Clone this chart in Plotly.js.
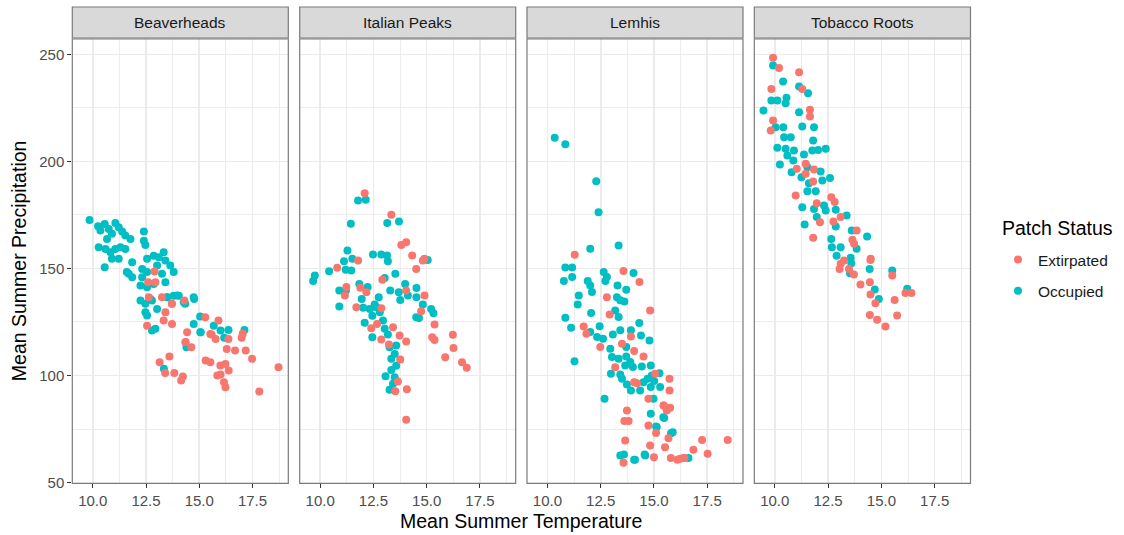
<!DOCTYPE html>
<html>
<head>
<meta charset="utf-8">
<script src="https://cdn.plot.ly/plotly-3.0.1.min.js"></script>
<style>html,body{margin:0;padding:0;background:#fff;}#chart{width:1124px;height:535px;}</style>
</head>
<body>
<div id="chart"></div>
<script>
// ---------- data ----------
const panels = ['Beaverheads', 'Italian Peaks', 'Lemhis', 'Tobacco Roots'];
const statuses = ['Extirpated', 'Occupied'];

// Beaverheads
const beaverOccX = [9.85,10.25,10.56,10.75,11.06,11.22,11.38,10.9,10.67,11.53,11.77,10.36,10.28,10.6,10.83,11.06,11.3,11.53,11.22,10.9,10.56,11.85,12.4,12.4,12.47,12.55,12.86,13.1,13.33,13.41,13.64,13.8,13.02,12.32,12.55,11.69,11.6,11.85,12.32,12.24,12.55,12.86,13.25,13.41,13.5,13.8,14.04,14.27,14.74,12.24,12.47,12.78,13.02,12.47,12.55,12.94,12.78,14.74,15.05,15.68,16.0,13.34,14.4,16.17,17.12,16.37,15.07,14.76,15.04,14.34,12.7,13.48,13.95];
const beaverOccY = [172.6,169.7,170.8,168.5,171.3,169.3,167.3,166.2,163.8,165.4,163.8,167.7,159.9,159.1,157.6,159.1,159.9,159.1,154.5,154.5,150.6,152.9,167.3,163.0,161,154.5,156,155.3,157.6,153.7,151.4,148.3,151.4,149.8,148.3,147.5,148.3,145.9,145.9,142,141.2,142.8,147.5,143.6,136.6,137.3,137.3,134.2,136.6,135,133.5,135,131.1,129.6,128,121.8,121,124.1,120.2,123.3,121,103.1,113.2,117.6,121.3,121.3,120.2,135.8,127.6,133.5,135.8,136.6,137.4];
const beaverExtX = [12.9,12.94,12.63,13.25,13.72,13.41,12.55,13.33,13.72,15.28,15.9,14.43,15.52,14.35,15.58,15.77,16.37,16.99,17.04,14.36,14.63,16.29,16.68,17.18,17.48,13.6,13.14,15.3,15.52,15.99,16.23,16.38,15.85,16.16,16.23,16.0,13.4,13.83,14.23,14.15,17.82,18.72,13.71,14.3,12.6];
const beaverExtY = [148.6,143.6,136.6,136.6,133.5,129.6,123.3,125.7,124.1,127.2,125.7,120.2,119.4,115.5,119.1,117.1,117.1,117.6,119.5,115.6,113.2,112.4,111.7,111.7,107.8,108.9,106.2,107.0,106.2,104.7,105.4,102.3,100,96.9,94.5,100.5,101.2,101.2,99.5,97.7,92.5,103.9,133.5,135.0,143.6];

// Italian Peaks
const italianOccX = [11.78,12.14,11.44,13.15,13.7,11.28,11.12,11.51,12.48,12.87,13.14,13.18,11.2,11.46,10.42,9.75,9.67,13.53,13.03,13.99,14.52,10.9,11.21,11.84,12.23,11.95,10.9,13.29,13.69,13.76,14.12,14.52,14.82,15.21,15.32,14.51,14.64,12.75,12.56,12.33,12.02,12.45,12.8,12.09,12.95,13.03,12.45,13.18,13.26,13.57,13.5,13.34,13.57,13.34,13.07,13.5,13.42,13.26,12.64,15.05];
const italianOccY = [181.8,182.1,170.9,171.3,171.9,158.4,153.4,154.5,156.5,156.5,156.1,153.4,149.4,149.0,148.7,146.7,144.1,147.5,145.6,142.8,140.9,139.7,139.7,142.8,141.3,135.8,132.2,139.7,138.9,135.3,137.4,136.6,133.2,131.1,129.1,127.2,126.9,136.6,133.2,131.1,131.6,127.9,129.6,124.6,125.7,121.8,117.9,119.1,113.2,114.0,110.1,107.8,104.6,102.6,99.7,99.2,96.1,93.3,131.9,154.0];
const italianExtX = [12.09,13.34,13.81,14.04,14.32,14.82,14.51,11.78,10.8,11.23,11.16,11.89,12.17,11.7,12.92,12.87,14.04,14.9,14.74,15.37,15.26,15.37,16.23,16.26,15.87,16.66,16.88,12.4,12.67,12.87,13.42,13.73,14.04,13.23,13.76,13.65,13.53,14.07,14.04,14.9];
const italianExtY = [185.2,175.1,161.0,162.3,156.1,153.7,149.8,153.7,150.3,141.3,137.4,141,138.9,131.9,144.7,131.4,139.7,137.4,130.0,123.8,117.9,116.6,119.0,112.9,108.5,106.2,103.6,122.1,124.1,116.8,122.6,118.7,115.9,114.5,107.5,97.2,92.7,93.6,79.3,154.5];

// Lemhis
const lemhisOccX = [10.34,10.84,12.29,12.4,12.01,13.34,10.84,11.16,10.77,11.16,12.64,12.79,12.72,14.04,11.89,12.01,12.09,13.29,13.7,13.26,13.42,13.61,11.47,11.42,13.18,13.34,12.05,10.84,11.11,12.45,12.01,12.33,12.61,13.07,13.42,13.92,14.31,14.39,14.79,12.95,13.7,13.03,13.34,13.7,13.89,13.65,14.01,14.43,14.85,12.98,13.42,13.5,13.73,13.92,14.35,14.51,14.7,14.9,15.01,15.26,14.85,15.29,12.68,14.98,14.85,15.48,15.13,15.88,13.42,14.07,14.59,16.62,11.27,15.8,15.44,14.11,13.59,14.56,15.1];
const lemhisOccY = [211.1,208.0,190.7,176.3,159.2,160.7,150.4,150.4,144.1,146.0,148.3,146.0,144.1,147.9,144.1,142.1,139.0,142.1,140.1,136.6,135.1,134.6,137.4,133.2,130.4,127.3,129.2,127.0,122.3,123.0,120.3,118.0,117.2,119.2,121.1,121.1,124.5,118.7,116.4,112.5,113.3,108.6,107.8,108.9,106.3,104.7,104.0,104.2,104.7,100.8,100.5,98.5,95.8,93.0,93.0,96.9,98.5,100.0,97.4,101.1,94.6,94.6,89.1,89.1,82.1,80.1,75.9,73.5,62.6,60.6,62.6,61.5,106.7,73.0,80.5,60.6,63.1,63.1,76.2];
const lemhisExtX = [11.28,13.57,14.32,12.79,14.82,12.92,11.7,11.83,12.48,13.92,13.5,14.07,14.51,13.18,14.2,14.07,15.06,15.73,15.73,14.74,15.45,15.6,13.73,13.61,13.81,14.74,15.1,15.68,13.65,14.82,15.52,15.79,16.1,16.38,16.85,17.26,18.46,17.52,15.46,15.76,15.0,16.23,16.43,13.57];
const lemhisExtY = [156.4,148.8,143.7,136.6,130.4,128.5,122.9,119.5,113.3,118.2,114.8,111.4,108.9,103.9,96.4,96.9,100.8,98.5,93.0,89.1,86.0,83.7,83.7,78.7,78.7,76.7,73.1,70.7,69.6,67.3,66.5,61.5,60.6,61.5,65.3,69.9,69.9,63.4,86.0,84.9,61.8,61.1,61.5,59.3];

// Tobacco Roots
const tobaccoOccX = [9.92,10.39,11.14,11.56,10.55,9.84,10.12,10.51,9.47,11.14,10.04,10.4,11.29,11.84,10.44,10.75,11.8,10.12,10.51,10.9,11.37,11.76,12.03,12.39,10.59,10.87,10.24,11.53,10.79,12.15,12.59,11.25,12.23,11.6,11.53,11.92,11.29,11.84,12.31,12.39,12.86,13.37,11.97,11.4,12.86,13.61,14.33,12.65,13.09,12.68,13.84,12.9,13.56,13.59,13.53,14.45,15.51,14.69,14.88,16.21];
const tobaccoOccY = [244.8,237.4,235.0,231.9,229.7,228.5,228.5,227.2,223.8,223.0,216.0,216.0,216.3,216.0,211.3,211.3,209.8,206.4,205.9,205.1,203.2,205.1,205.4,205.9,202.8,200.4,198.6,197.3,195.0,195.3,192.3,192.6,191.1,189.8,186.1,186.1,178.6,177.8,179.4,177.1,177.4,174.7,174.0,170.5,169.6,167.7,164.9,163.8,159.9,159.9,159.2,156.0,155.0,152.5,147.8,149.8,149.1,140.2,135.8,140.5];
const tobaccoExtX = [9.92,10.2,11.14,11.29,9.84,11.65,11.65,9.92,9.81,11.45,11.84,11.03,11.45,11.8,10.98,11.97,12.65,12.81,12.12,12.75,13.09,11.8,13.84,13.64,13.72,14.5,13.25,14.49,13.09,13.04,13.48,13.71,14.02,14.46,14.49,14.72,15.51,15.62,16.13,16.41,14.46,14.8,15.19,15.74];
const tobaccoExtY = [248.4,243.7,241.7,233.9,233.9,224.1,221.0,219.1,214.5,198.9,196.2,196.6,194.2,190.6,184.1,180.5,183.3,181.0,171.6,171.9,174.0,164.3,167.7,163.4,161.5,154.5,153.7,154.0,152.2,149.8,149.8,147.2,142.5,143.6,137.8,133.8,146.7,135.3,138.5,138.5,128.3,126.0,122.9,128.0];

const xTickVals = [10, 12.5, 15, 17.5];
const xTickText = ['10.0', '12.5', '15.0', '17.5'];
const yTickVals = [50, 100, 150, 200, 250];
const yTickText = ['50', '100', '150', '200', '250'];

// ---------- build ----------
const occX = [beaverOccX, italianOccX, lemhisOccX, tobaccoOccX];
const occY = [beaverOccY, italianOccY, lemhisOccY, tobaccoOccY];
const extX = [beaverExtX, italianExtX, lemhisExtX, tobaccoExtX];
const extY = [beaverExtY, italianExtY, lemhisExtY, tobaccoExtY];
const colors = {Extirpated: '#F8766D', Occupied: '#00BFC4'};

const W = 1124, H = 535;
const panelPx = [[72.3, 288.3], [299.7, 515.7], [527.0, 743.0], [754.3, 970.5]];
const topPx = 39, botPx = 483.4, stripTop = 7;
const FONT = 'Liberation Sans, Arial, sans-serif';

const traces = [];
panels.forEach((p, i) => {
  const xa = i === 0 ? 'x' : 'x' + (i + 1);
  const ya = i === 0 ? 'y' : 'y' + (i + 1);
  traces.push({
    type: 'scatter', mode: 'markers', x: occX[i], y: occY[i], xaxis: xa, yaxis: ya,
    name: 'Occupied', legendgroup: 'Occupied', legendrank: 2, showlegend: i === 0,
    marker: {color: colors.Occupied, size: 8, line: {width: 0}}, hoverinfo: 'x+y'
  });
  traces.push({
    type: 'scatter', mode: 'markers', x: extX[i], y: extY[i], xaxis: xa, yaxis: ya,
    name: 'Extirpated', legendgroup: 'Extirpated', legendrank: 1, showlegend: i === 0,
    marker: {color: colors.Extirpated, size: 8, line: {width: 0}}, hoverinfo: 'x+y'
  });
});

const layout = {
  width: W, height: H,
  margin: {l: 0, r: 0, t: 0, b: 0},
  paper_bgcolor: '#ffffff', plot_bgcolor: '#ffffff',
  font: {family: FONT, color: '#1A1A1A'},
  showlegend: true,
  legend: {
    x: 998 / W, y: 1 - 243 / H, xanchor: 'left', yanchor: 'top',
    font: {size: 15.5, color: '#1A1A1A', family: FONT},
    traceorder: 'grouped', tracegroupgap: 8,
    bgcolor: 'rgba(0,0,0,0)'
  },
  shapes: [], annotations: []
};

panels.forEach((p, i) => {
  const sfx = i === 0 ? '' : String(i + 1);
  const d = [panelPx[i][0] / W, panelPx[i][1] / W];
  layout['xaxis' + sfx] = {
    domain: d, range: [9.04, 19.18], anchor: 'y' + sfx,
    tickmode: 'array', tickvals: xTickVals, ticktext: xTickText,
    ticks: 'outside', ticklen: 4, tickcolor: '#333333', tickwidth: 1,
    tickfont: {size: 15, color: '#4D4D4D', family: FONT},
    showgrid: true, gridcolor: '#EBEBEB', gridwidth: 1.6,
    minor: {tickmode: 'array', tickvals: [11.25, 13.75, 16.25, 18.75], showgrid: true, gridcolor: '#EBEBEB', gridwidth: 0.9, ticks: ''},
    zeroline: false, showline: false, fixedrange: true
  };
  layout['yaxis' + sfx] = {
    domain: [1 - botPx / H, 1 - topPx / H], range: [49.6, 257.2], anchor: 'x' + sfx,
    tickmode: 'array', tickvals: yTickVals, ticktext: i === 0 ? yTickText : ['', '', '', '', ''],
    ticks: i === 0 ? 'outside' : '', ticklen: 4, tickcolor: '#333333', tickwidth: 1,
    tickfont: {size: 15, color: '#4D4D4D', family: FONT},
    showgrid: true, gridcolor: '#EBEBEB', gridwidth: 1.6,
    minor: {tickmode: 'array', tickvals: [75, 125, 175, 225], showgrid: true, gridcolor: '#EBEBEB', gridwidth: 0.9, ticks: ''},
    zeroline: false, showline: false, fixedrange: true
  };
  // panel border
  layout.shapes.push({
    type: 'rect', xref: 'paper', yref: 'paper', layer: 'above',
    x0: d[0], x1: d[1], y0: 1 - botPx / H, y1: 1 - topPx / H,
    line: {color: '#7a7a7a', width: 1.2}, fillcolor: 'rgba(0,0,0,0)'
  });
  // strip
  layout.shapes.push({
    type: 'rect', xref: 'paper', yref: 'paper', layer: 'above',
    x0: d[0], x1: d[1], y0: 1 - (topPx - 1) / H, y1: 1 - stripTop / H,
    line: {color: '#7a7a7a', width: 1.2}, fillcolor: '#D9D9D9'
  });
  layout.annotations.push({
    xref: 'paper', yref: 'paper', x: (d[0] + d[1]) / 2, y: 1 - ((stripTop + topPx - 1) / 2) / H,
    xanchor: 'center', yanchor: 'middle', showarrow: false, text: p,
    font: {size: 15.5, color: '#1A1A1A', family: FONT}
  });
});

layout.annotations.push({
  xref: 'paper', yref: 'paper', x: ((panelPx[0][0] + panelPx[3][1]) / 2) / W, y: 1 - 521 / H,
  xanchor: 'center', yanchor: 'middle', showarrow: false, text: 'Mean Summer Temperature',
  font: {size: 19.5, color: '#000', family: FONT}
});
layout.annotations.push({
  xref: 'paper', yref: 'paper', x: 19 / W, y: 1 - ((topPx + botPx) / 2) / H,
  xanchor: 'center', yanchor: 'middle', showarrow: false, textangle: -90, text: 'Mean Summer Precipitation',
  font: {size: 19.5, color: '#000', family: FONT}
});
// legend title
layout.annotations.push({
  xref: 'paper', yref: 'paper', x: 1000 / W, y: 1 - 228 / H,
  xanchor: 'left', yanchor: 'middle', showarrow: false, text: 'Patch Status',
  font: {size: 19.5, color: '#000', family: FONT}
});

Plotly.newPlot('chart', traces, layout, {displayModeBar: false, staticPlot: true});
</script>
</body>
</html>
